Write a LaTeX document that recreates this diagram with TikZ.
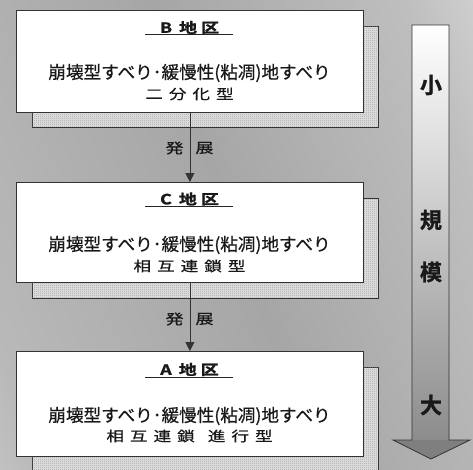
\documentclass[tikz,border=0pt]{standalone}
\usepackage{fontspec}
\setmainfont{Noto Sans CJK JP}[BoldFont={Noto Sans CJK JP Bold}]
\newfontfamily\jpmed{Noto Sans CJK JP}[FakeBold=0.6]
\newfontfamily\jpheavy{Noto Sans CJK JP Bold}[FakeBold=1.2]
\usetikzlibrary{arrows.meta,patterns.meta}
\definecolor{edge}{HTML}{333333}
\definecolor{bg0}{HTML}{E2E2E2}
\definecolor{bg1}{HTML}{B9B9B9}
\definecolor{bg2}{HTML}{A6A6A6}
\definecolor{bg3}{HTML}{BEBEBE}
\definecolor{bg4}{HTML}{F6F6F6}
\definecolor{shadowbg}{HTML}{DADADA}
\definecolor{dotcol}{HTML}{8A8A8A}
\definecolor{shaftbot}{HTML}{8C8C8C}
\definecolor{headfill}{HTML}{7F7F7F}
\pgfdeclarehorizontalshading{bgshade}{100bp}{color(0bp)=(bg0); color(22bp)=(bg1); color(50bp)=(bg2); color(75bp)=(bg3); color(100bp)=(bg4)}
\tikzdeclarepattern{
  name=halftone,
  type=uncolored,
  bounding box={(0pt,0pt) and (2pt,2pt)},
  tile size={(2pt,2pt)},
  code={\pgfpathrectangle{\pgfpointorigin}{\pgfqpoint{1pt}{1pt}}\pgfusepath{fill}}
}
\newcommand{\flatjp}[1]{\scalebox{1}[0.78]{#1}}
\newcommand{\gpjp}{\hspace{6pt}}
\begin{document}
\begin{tikzpicture}[x=1pt,y=-1pt,
  frontbox/.style={draw=edge, line width=0.8pt, fill=white, anchor=north west, minimum width=347pt, inner sep=0pt},
  shadowbox/.style={draw=edge, line width=0.8pt, fill=shadowbg, anchor=north west, minimum width=346pt, inner sep=0pt,
     postaction={pattern=halftone, pattern color=dotcol}},
  titletext/.style={font=\fontsize{18}{18}\selectfont\jpheavy, inner sep=0pt, text=black!90},
  bodytext/.style={font=\fontsize{17.6}{20}\selectfont\jpmed, inner sep=0pt, text=black!90},
  uline/.style={draw=black!85, line width=0.9pt},
  conn/.style={draw=edge, line width=0.8pt, -{Triangle[length=9pt,width=9pt]}},
  connlabel/.style={font=\fontsize{18}{18}\selectfont\jpmed, inner sep=0pt, text=black!90},
  scaletext/.style={font=\fontsize{22}{22}\selectfont\jpheavy, inner sep=0pt, text=black!90},
  arrowline/.style={draw=edge, line width=0.8pt}
]
\useasboundingbox (0,0) rectangle (473,469);
\shade[shading=bgshade, shading angle=20] (0,0) rectangle (473,469);

% ---- B ----
\node[shadowbox, minimum height=101pt] (Bs) at (32,26) {};
\node[frontbox, minimum height=102pt] (B) at (16,10) {};
\node[titletext] (Bt) at (189.5,27.5) {\flatjp{B\hspace{7pt}地\hspace{4pt}区}};
\coordinate (Bu1) at (145,34.5);
\coordinate (Bu2) at (233,34.5);
\draw[uline] (Bu1) -- (Bu2);
\node[bodytext] (B1) at (189.5,73) {崩壊型すべり･緩慢性(粘凋)地すべり};
\node[bodytext] (B2) at (189.5,94) {\flatjp{二\gpjp 分\gpjp 化\gpjp 型}};

% ---- C ----
\node[shadowbox, minimum height=100pt] (Cs) at (32,198) {};
\node[frontbox, minimum height=100pt] (C) at (16,182) {};
\node[titletext] (Ct) at (189.5,199) {\flatjp{C\hspace{7pt}地\hspace{4pt}区}};
\coordinate (Cu1) at (145,206.5);
\coordinate (Cu2) at (233,206.5);
\draw[uline] (Cu1) -- (Cu2);
\node[bodytext] (C1) at (189.5,245) {崩壊型すべり･緩慢性(粘凋)地すべり};
\node[bodytext] (C2) at (189.5,266) {\flatjp{相\gpjp 互\gpjp 連\gpjp 鎖\gpjp 型}};

% ---- A ----
\node[shadowbox, minimum height=110pt] (As) at (32,367) {};
\node[frontbox, minimum height=105pt] (A) at (16,351) {};
\node[titletext] (At) at (189.5,369.5) {\flatjp{A\hspace{7pt}地\hspace{4pt}区}};
\coordinate (Au1) at (145,377);
\coordinate (Au2) at (233,377);
\draw[uline] (Au1) -- (Au2);
\node[bodytext] (A1) at (189.5,416) {崩壊型すべり･緩慢性(粘凋)地すべり};
\node[bodytext] (A2) at (189.5,436) {\flatjp{相\gpjp 互\gpjp 連\gpjp 鎖\hspace{13pt}進\gpjp 行\gpjp 型}};

% ---- connectors ----
\draw[conn] (B.south) -- (C.north);
\node[connlabel] (g1a) at (174.5,148) {\flatjp{発}};
\node[connlabel] (g1b) at (204.5,148) {\flatjp{展}};
\draw[conn] (C.south) -- (A.north);
\node[connlabel] (g2a) at (174.5,319) {\flatjp{発}};
\node[connlabel] (g2b) at (204.5,319) {\flatjp{展}};

% ---- scale arrow ----
\shade[top color=white, bottom color=shaftbot] (412,25) rectangle (449,440);
\fill[headfill] (393,440) -- (470,440) -- (431,459) -- cycle;
\draw[arrowline] (412,25) -- (449,25) -- (449,440) -- (470,440) -- (431,459) -- (393,440) -- (412,440) -- cycle;
\node[scaletext] (s1) at (431,85) {小};
\node[scaletext] (s2) at (431,220) {規};
\node[scaletext] (s3) at (431,272) {模};
\node[scaletext] (s4) at (431,405) {大};
\end{tikzpicture}
\end{document}
